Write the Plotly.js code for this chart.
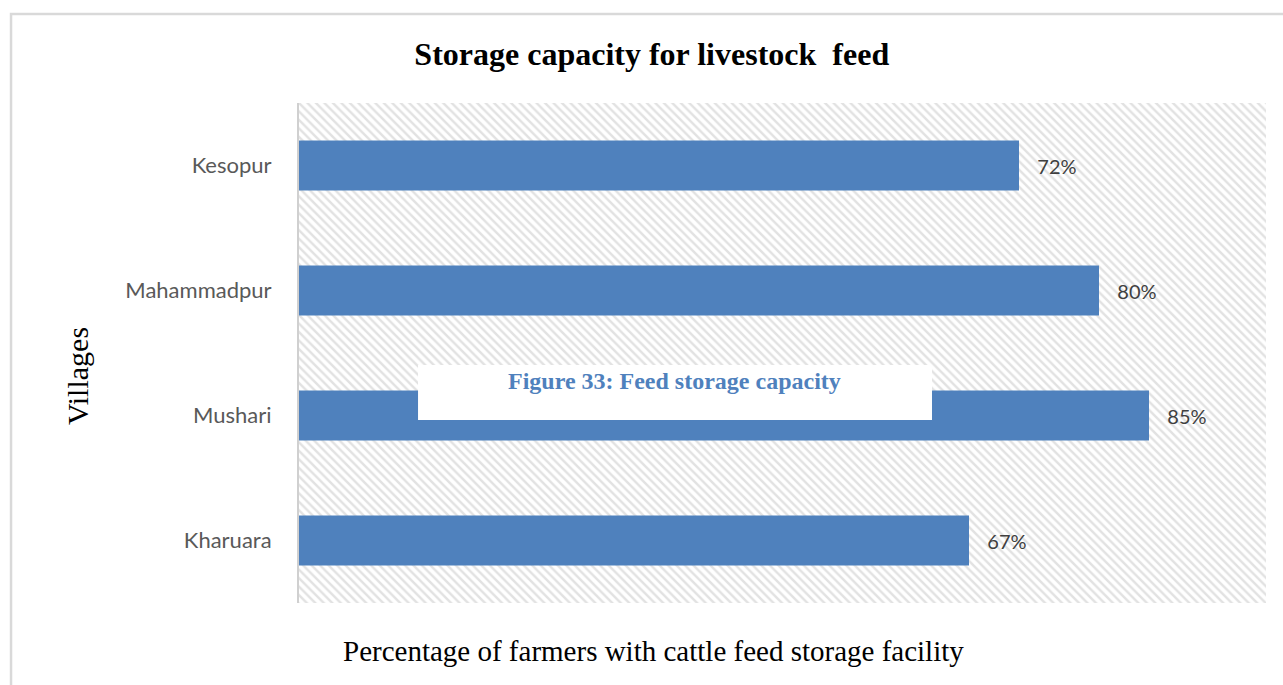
<!DOCTYPE html>
<html>
<head>
<meta charset="utf-8">
<script src="https://cdn.plot.ly/plotly-3.0.1.min.js"></script>
<style>
  html, body { margin: 0; padding: 0; background: #ffffff; }
  #chart { width: 1283px; height: 685px; }
</style>
</head>
<body>
<div id="chart"></div>
<script>
// Villages, listed bottom to top
const villages = ['Kharuara', 'Mushari', 'Mahammadpur', 'Kesopur'];
// Share of farmers with a cattle feed storage facility (%)
const storageShare = [67, 85, 80, 72];

const chartTitle = 'Storage capacity for livestock \u00a0feed';
const xTitle = 'Percentage of farmers with cattle feed storage facility';
const yTitle = 'Villages';
const captionText = 'Figure 33: Feed storage capacity';

const serif = 'Liberation Serif, Times New Roman, serif';
const sans = 'Lato, Open Sans, sans-serif';

// Hatched plot background: one bar spanning the whole plotting area
const backdrop = {
  type: 'bar',
  orientation: 'h',
  x: [1],
  y: [0.5],
  width: [1],
  xaxis: 'x',
  yaxis: 'y',
  hoverinfo: 'skip',
  showlegend: false,
  marker: {
    color: '#ffffff',
    line: { width: 0 },
    pattern: { shape: '\\', fgcolor: '#e2e2e2', bgcolor: '#ffffff', size: 6, solidity: 0.4 }
  }
};

const bars = {
  type: 'bar',
  orientation: 'h',
  x: storageShare,
  y: villages,
  xaxis: 'x2',
  yaxis: 'y2',
  marker: { color: '#4f81bd', line: { width: 0 } },
  texttemplate: '\u00a0\u00a0\u00a0%{x}%',
  textposition: 'outside',
  cliponaxis: false,
  textfont: { family: sans, size: 20, color: '#404040' },
  hoverinfo: 'x+y',
  showlegend: false
};

const layout = {
  width: 1283,
  height: 685,
  margin: { l: 299, r: 17, t: 103, b: 82 },
  paper_bgcolor: '#ffffff',
  plot_bgcolor: '#ffffff',
  bargap: 0.6,
  title: {
    text: '<b>' + chartTitle + '</b>',
    font: { family: serif, size: 32, color: '#000000' },
    x: 0.508, xanchor: 'center',
    y: 0.921, yanchor: 'middle'
  },
  xaxis: { range: [0, 1], visible: false, fixedrange: true },
  yaxis: { range: [0, 1], visible: false, fixedrange: true },
  xaxis2: {
    overlaying: 'x',
    range: [0, 96.7],
    showticklabels: false,
    showgrid: false,
    zeroline: false,
    showline: false,
    ticks: ''
  },
  yaxis2: {
    overlaying: 'y',
    side: 'left',
    type: 'category',
    categoryorder: 'array',
    categoryarray: villages,
    showgrid: false,
    zeroline: false,
    showline: true,
    linecolor: '#d0d0d0',
    linewidth: 2,
    ticks: '',
    ticklabelstandoff: 21,
    tickfont: { family: sans, size: 22, color: '#595959' }
  },
  annotations: [
    {
      xref: 'paper', yref: 'paper',
      x: 0.3671, y: -0.096,
      xanchor: 'center', yanchor: 'middle',
      text: xTitle,
      showarrow: false,
      font: { family: serif, size: 29, color: '#000000' }
    },
    {
      xref: 'paper', yref: 'paper',
      x: -0.2295, y: 0.454,
      xanchor: 'center', yanchor: 'middle',
      textangle: -90,
      text: yTitle,
      showarrow: false,
      font: { family: serif, size: 30, color: '#000000' }
    },
    {
      xref: 'paper', yref: 'paper',
      x: 0.3888, y: 0.444,
      xanchor: 'center', yanchor: 'middle',
      text: '<b>' + captionText + '</b>',
      showarrow: false,
      font: { family: serif, size: 24, color: '#4f81bd' }
    }
  ],
  shapes: [
    // outer frame of the chart area
    {
      type: 'rect', xref: 'paper', yref: 'paper',
      x0: -0.2978, x1: 1.2, y0: -0.5, y1: 1.178,
      line: { color: '#d9d9d9', width: 2.5 },
      fillcolor: 'rgba(0,0,0,0)'
    },
    // caption box
    {
      type: 'rect', xref: 'paper', yref: 'paper',
      x0: 0.1231, x1: 0.6546, y0: 0.366, y1: 0.476,
      line: { width: 0 },
      fillcolor: '#ffffff',
      layer: 'above'
    }
  ]
};

Plotly.newPlot('chart', [backdrop, bars], layout, { displayModeBar: false, staticPlot: true });
</script>
</body>
</html>
